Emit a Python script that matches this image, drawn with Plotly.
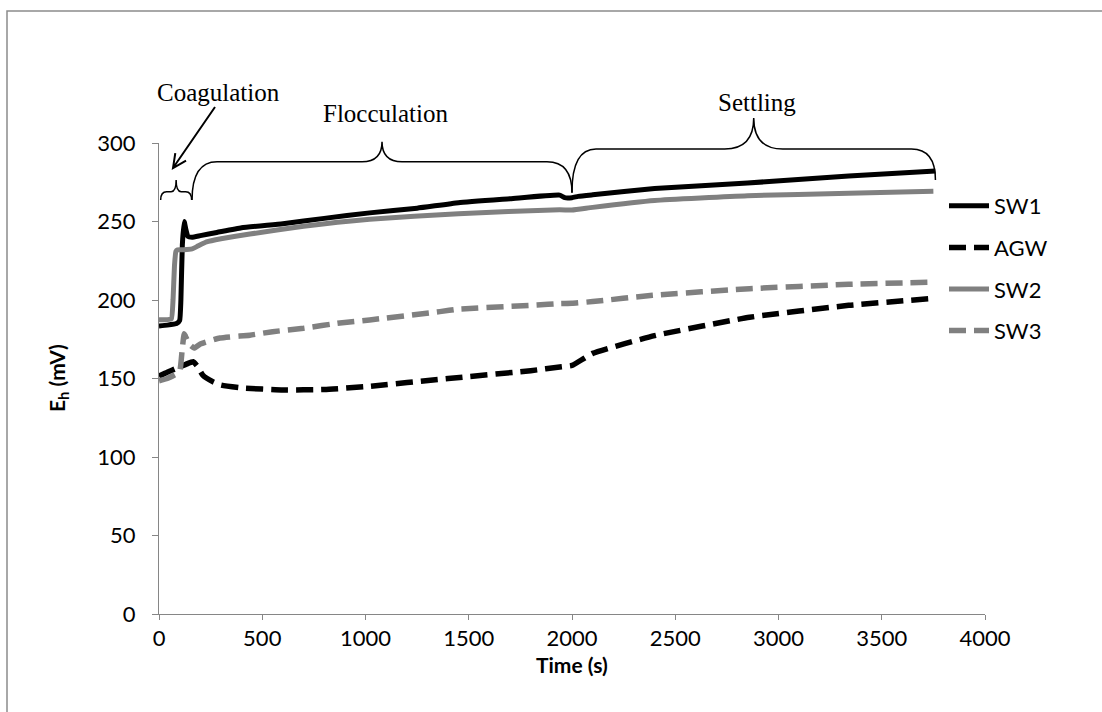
import plotly.graph_objects as go
import math

# ---------------- data ----------------
sw1_t = [0, 40, 85, 100, 106, 113, 122, 130, 140, 160, 200, 280, 400, 600, 800, 1020,
         1250, 1450, 1700, 1940, 1965, 2000, 2030, 2100, 2400, 2850, 3340, 3760]
sw1_v = [183.5, 184, 185, 187, 200, 235, 250, 245, 240.5, 240, 241, 243, 246, 248.6, 252, 255.5,
         258.5, 262, 264.5, 266.8, 265.2, 265.2, 266, 267, 271, 274.5, 279, 282.2]

agw_t = [0, 40, 85, 130, 165, 185, 213, 260, 300, 400, 600, 800, 1000, 1400, 1800, 1950,
         2000, 2100, 2400, 2860, 3340, 3750]
agw_v = [151.5, 154, 156.5, 159, 160.7, 158, 152, 148, 145.8, 144, 142.7, 143, 144.8, 150, 155, 157.5,
         158.3, 166, 177.3, 189, 196.6, 201]

sw2_t = [0, 40, 60, 68, 75, 82, 90, 120, 160, 190, 230, 300, 440, 700, 1020, 1450,
         1940, 2000, 2100, 2400, 2850, 3340, 3750]
sw2_v = [187.5, 187.5, 188, 200, 222, 231, 232, 232, 232.5, 234.5, 237, 239, 242, 247, 251.5, 255,
         257.5, 257.3, 259, 263.4, 266.4, 268, 269.3]

sw3_t = [0, 40, 85, 101, 112, 122, 128, 145, 170, 200, 295, 440, 550, 700, 876, 1020, 1360,
         1450, 1830, 1940, 2000, 2100, 2390, 2860, 3340, 3760]
sw3_v = [148.5, 150, 153, 155, 168, 178.5, 177, 172, 169.4, 172, 175.8, 177.6, 179.8, 182, 185.4, 187.3, 192.6,
         194.2, 196.8, 197.7, 197.9, 199, 203, 207.2, 210, 211.4]

series_names = ["SW1", "AGW", "SW2", "SW3"]

x_ticks = [0, 500, 1000, 1500, 2000, 2500, 3000, 3500, 4000]
y_ticks = [0, 50, 100, 150, 200, 250, 300]

phase_names = ["Coagulation", "Flocculation", "Settling"]
phase_start = [8, 160, 2000]      # s
phase_end = [158, 2000, 3760]     # s

# ---------------- layout geometry (pixels) ----------------
W, H = 1102, 712
L, R, T, B = 159, 985, 143, 614
PW, PH = R - L, B - T
X_MAX, Y_MAX = 4000, 300


def t2px(t):
    return L + t / X_MAX * PW


def px2paper_x(px):
    return (px - L) / PW


def px2paper_y(py):
    return (B - py) / PH


def brace_path(x0, x1, xm, y_l, y_r, y_bar, y_top, rx, rm):
    pts = [
        ("M", [(x0, y_l)]),
        ("Q", [(x0, y_bar), (x0 + rx, y_bar)]),
        ("L", [(xm - rm, y_bar)]),
        ("Q", [(xm, y_bar), (xm, y_top)]),
        ("Q", [(xm, y_bar), (xm + rm, y_bar)]),
        ("L", [(x1 - rx, y_bar)]),
        ("Q", [(x1, y_bar), (x1, y_r)]),
    ]
    s = ""
    for cmd, pp in pts:
        s += cmd + " " + " ".join(f"{px2paper_x(a):.5f},{px2paper_y(b):.5f}" for a, b in pp) + " "
    return s.strip()


# brace styles: (y_left_tip, y_right_tip, y_bar, y_top, end radius, mid radius)
brace_style = [
    (200, 200, 191.7, 180, 6, 5),
    (200, 193, 161.7, 141.7, 25, 20),
    (192, 180, 149, 118, 24, 29),
]
label_pos = [(218, 92), (385, 113), (757, 102)]

GREY = "#808080"
AX = "#868686"
TICKFONT = dict(family="Lato, sans-serif", size=22, color="black")

fig = go.Figure()

styles = [
    dict(color="black", width=5, dash="solid"),
    dict(color="black", width=5.5, dash="17px,8px"),
    dict(color=GREY, width=5, dash="solid"),
    dict(color=GREY, width=5.5, dash="17px,8px"),
]
for name, tt, vv, st in zip(series_names, [sw1_t, agw_t, sw2_t, sw3_t],
                            [sw1_v, agw_v, sw2_v, sw3_v], styles):
    fig.add_trace(go.Scatter(x=tt, y=vv, mode="lines", name=name, legendgroup=name,
                             line=dict(color=st["color"], width=st["width"], dash=st["dash"],
                                       shape="spline", smoothing=0.4)))

shapes = []
annotations = []
for i, nm in enumerate(phase_names):
    x0, x1 = t2px(phase_start[i]), t2px(phase_end[i])
    yl, yr, yb, ytop, rx, rm = brace_style[i]
    xm = (x0 + x1) / 2
    shapes.append(dict(type="path", xref="paper", yref="paper",
                       path=brace_path(x0, x1, xm, yl, yr, yb, ytop, rx, rm),
                       line=dict(color="black", width=1.5)))
    lx, ly = label_pos[i]
    annotations.append(dict(text=nm, xref="paper", yref="paper", x=px2paper_x(lx), y=px2paper_y(ly),
                            xanchor="center", yanchor="middle", showarrow=False,
                            font=dict(family="Liberation Serif, Times New Roman, serif", size=25,
                                      color="black")))

# arrow from "Coagulation" to its brace
tail, head = (215, 107), (173, 168)
ang = math.atan2(tail[1] - head[1], tail[0] - head[0])
wl = 15
w1 = (head[0] + wl * math.cos(ang + 0.45), head[1] + wl * math.sin(ang + 0.45))
w2 = (head[0] + wl * math.cos(ang - 0.45), head[1] + wl * math.sin(ang - 0.45))


def P(p):
    return f"{px2paper_x(p[0]):.5f},{px2paper_y(p[1]):.5f}"


shapes.append(dict(type="path", xref="paper", yref="paper",
                   path=f"M {P(tail)} L {P(head)} M {P(w1)} L {P(head)} L {P(w2)}",
                   line=dict(color="black", width=2)))

# outer chart border (left and top edges visible)
shapes.append(dict(type="rect", xref="paper", yref="paper",
                   x0=px2paper_x(7), x1=px2paper_x(1160), y0=px2paper_y(760), y1=px2paper_y(11),
                   line=dict(color="#8c8c8c", width=1.5), fillcolor="rgba(0,0,0,0)", layer="below"))

# axis titles
annotations.append(dict(text="<b>E<sub>h</sub> (mV)</b>", xref="paper", yref="paper",
                        x=px2paper_x(58), y=px2paper_y(378), textangle=-90,
                        xanchor="center", yanchor="middle", showarrow=False,
                        font=dict(family="Lato, sans-serif", size=21, color="black")))
annotations.append(dict(text="<b>Time (s)</b>", xref="paper", yref="paper",
                        x=px2paper_x(572), y=px2paper_y(664),
                        xanchor="center", yanchor="middle", showarrow=False,
                        font=dict(family="Lato, sans-serif", size=21, color="black")))

fig.update_layout(
    width=W, height=H,
    margin=dict(l=L, r=W - R, t=T, b=H - B, autoexpand=False),
    paper_bgcolor="white", plot_bgcolor="white",
    shapes=shapes, annotations=annotations,
    showlegend=True,
    legend=dict(x=px2paper_x(944), y=px2paper_y(185), xanchor="left", yanchor="top",
                font=dict(family="Lato, sans-serif", size=22, color="black"),
                bgcolor="rgba(0,0,0,0)", tracegroupgap=10, itemwidth=40),
    xaxis=dict(range=[0, X_MAX], tickvals=x_ticks, ticktext=[str(v) for v in x_ticks],
               showgrid=False, zeroline=False, showline=True, linecolor=AX, linewidth=1,
               ticks="outside", ticklen=5, tickcolor=AX, tickfont=TICKFONT, fixedrange=True),
    yaxis=dict(range=[0, Y_MAX], tickvals=y_ticks, ticktext=[str(v) for v in y_ticks],
               showgrid=False, zeroline=False, showline=True, linecolor=AX, linewidth=1,
               ticks="outside", ticklen=6, tickcolor=AX, tickfont=TICKFONT,
               ticklabelstandoff=12, fixedrange=True),
)

fig.write_html("out.html")
